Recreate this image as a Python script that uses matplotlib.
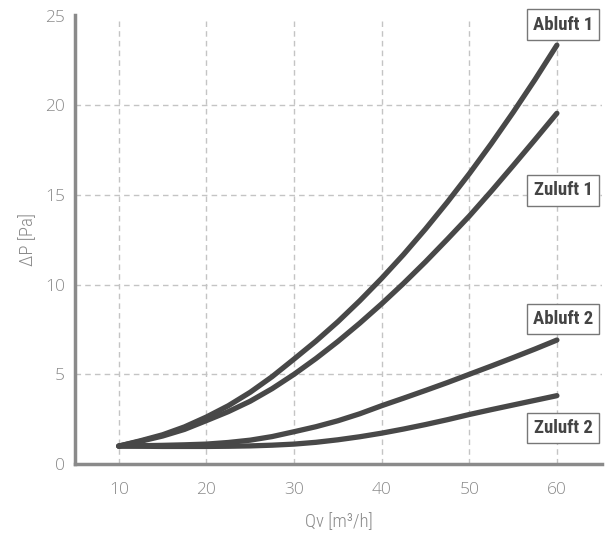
import matplotlib.pyplot as plt

# values
qv = [10, 12.5, 15, 17.5, 20, 22.5, 25, 27.5, 30, 32.5, 35,
      37.5, 40, 42.5, 45, 47.5, 50, 52.5, 55, 57.5, 60]
abluft1 = [1.0, 1.3, 1.63, 2.07, 2.62, 3.25, 4.0, 4.87, 5.85, 6.85, 7.93,
           9.1, 10.35, 11.68, 13.1, 14.6, 16.18, 17.85, 19.6, 21.43, 23.35]
zuluft1 = [1.0, 1.27, 1.56, 1.93, 2.42, 2.92, 3.5, 4.2, 5.0, 5.88, 6.83,
           7.85, 8.93, 10.07, 11.27, 12.53, 13.82, 15.2, 16.63, 18.08, 19.55]
abluft2 = [1.0, 1.02, 1.04, 1.07, 1.11, 1.2, 1.33, 1.53, 1.8, 2.08, 2.41,
           2.8, 3.25, 3.67, 4.1, 4.54, 5.0, 5.46, 5.93, 6.41, 6.91]
zuluft2 = [1.0, 0.99, 0.98, 0.98, 0.98, 0.99, 1.01, 1.05, 1.11, 1.21, 1.35,
           1.52, 1.72, 1.95, 2.2, 2.47, 2.76, 3.03, 3.29, 3.55, 3.81]
names = ["Abluft 1", "Zuluft 1", "Abluft 2", "Zuluft 2"]
label_y = [24.5, 15.25, 8.1, 2.0]

x_ticks = [10, 20, 30, 40, 50, 60]
y_ticks = [0, 5, 10, 15, 20, 25]

narrow = ["Roboto Condensed", "Liberation Sans Narrow", "Liberation Sans"]

def main():
    fig = plt.figure(figsize=(6.14, 5.36), dpi=100)
    ax = fig.add_axes([0.1221, 0.1343, 0.8584, 0.8377])
    ax.set_xlim(5, 65.15)
    ax.set_ylim(0, 25.03)

    grid_kw = dict(color="#c4c4c4", lw=1, ls=(0, (4, 3)), zorder=0)
    for y in y_ticks[1:-1]:
        ax.axhline(y, **grid_kw)
    ax.vlines(x_ticks, 0, 24.7, **grid_kw)

    for series in [abluft1, zuluft1, abluft2, zuluft2]:
        ax.plot(qv, series, color="#484848", lw=3.8, solid_capstyle="round",
                solid_joinstyle="round", zorder=3)

    for name, y in zip(names, label_y):
        ax.text(60.7, y, name, ha="center", va="center", fontsize=13.5,
                fontweight="bold", color="#444444", family=narrow,
                bbox=dict(boxstyle="square,pad=0.33", fc="white", ec="#777777", lw=1),
                zorder=5, clip_on=False)

    for side in ["top", "right"]:
        ax.spines[side].set_visible(False)
    for side in ["left", "bottom"]:
        ax.spines[side].set_color("#8a8a8a")
        ax.spines[side].set_linewidth(2.5)

    ax.set_xticks(x_ticks)
    ax.set_yticks(y_ticks)
    ax.tick_params(length=0, labelcolor="#8a8a8a", labelsize=12.5)
    ax.tick_params(axis="x", pad=13)
    ax.tick_params(axis="y", pad=7)
    for lab in ax.get_xticklabels() + ax.get_yticklabels():
        lab.set_family("Open Sans")
        lab.set_fontweight("light")

    ax.set_xlabel("Qv [m³/h]", color="#8a8a8a", fontsize=13.5, fontweight="light",
                  family=narrow, labelpad=11)
    ax.set_ylabel("ΔP [Pa]", color="#8a8a8a", fontsize=13.5, fontweight="light",
                  family=narrow, labelpad=6)

    fig.savefig("out.png", dpi=100)

main()
